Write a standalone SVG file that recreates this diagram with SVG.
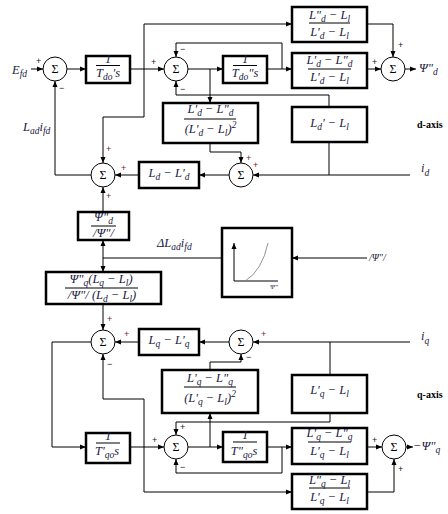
<svg xmlns="http://www.w3.org/2000/svg" width="448" height="514" viewBox="0 0 448 514">
<defs>
<marker id="ar" markerWidth="6" markerHeight="6" refX="6" refY="3" orient="auto" markerUnits="userSpaceOnUse"><path d="M0,0.5 L6,3 L0,5.5 z" fill="#000"/></marker>
<style>
.box{fill:#fff;stroke:#000;stroke-width:2.5}
.sum{fill:#fff;stroke:#000;stroke-width:1}
.ln{fill:none;stroke:#000;stroke-width:1}
.fl{stroke:#000;stroke-width:1}
.m{font-family:"Liberation Serif",serif;font-style:italic;font-size:12.5px;fill:#1a1a40}
.c{text-anchor:middle}
.s{font-size:9.5px}
.sig{font-family:"Liberation Serif",serif;font-size:12px;text-anchor:middle;fill:#000}
.sg{font-family:"Liberation Sans",sans-serif;font-size:9px;fill:#222}
.sr{font-family:"Liberation Sans",sans-serif;font-size:9px;fill:#7a1f1f}
.ax{font-family:"Liberation Serif",serif;font-weight:bold;font-size:10px;fill:#000}
</style>
</defs>
<rect width="448" height="514" fill="#fff"/>

<g id="connectors">
<path class="ln" d="M31,69 H43" marker-end="url(#ar)"/>
<path class="ln" d="M67,69 H86" marker-end="url(#ar)"/>
<path class="ln" d="M130,69 H164" marker-end="url(#ar)"/>
<path class="ln" d="M144,69 V24 H292" marker-end="url(#ar)"/>
<path class="ln" d="M144,69 V117 H103 V163" marker-end="url(#ar)"/>
<path class="ln" d="M188,69 H223" marker-end="url(#ar)"/>
<path class="ln" d="M210,69 V103" marker-end="url(#ar)"/>
<path class="ln" d="M267,69 H292" marker-end="url(#ar)"/>
<path class="ln" d="M282,69 V43 H176 V57" marker-end="url(#ar)"/>
<path class="ln" d="M329,107 V95 H176 V81" marker-end="url(#ar)"/>
<path class="ln" d="M410,175 H253" marker-end="url(#ar)"/>
<path class="ln" d="M329,175 V142"/>
<path class="ln" d="M210,143 V152 H241 V163" marker-end="url(#ar)"/>
<path class="ln" d="M229,175 H199" marker-end="url(#ar)"/>
<path class="ln" d="M139,175 H115" marker-end="url(#ar)"/>
<path class="ln" d="M91,175 H55 V81" marker-end="url(#ar)"/>
<path class="ln" d="M103,212 V187" marker-end="url(#ar)"/>
<path class="ln" d="M367,24 H393 V57" marker-end="url(#ar)"/>
<path class="ln" d="M367,69 H381" marker-end="url(#ar)"/>
<path class="ln" d="M405,69 H416" marker-end="url(#ar)"/>
<path class="ln" d="M367,258 H292" marker-end="url(#ar)"/>
<path class="ln" d="M222,258 H103"/>
<path class="ln" d="M103,258 V240" marker-end="url(#ar)"/>
<path class="ln" d="M103,258 V272" marker-end="url(#ar)"/>
<path class="ln" d="M103,304 V330" marker-end="url(#ar)"/>
<path class="ln" d="M410,342 H253" marker-end="url(#ar)"/>
<path class="ln" d="M330,342 V375"/>
<path class="ln" d="M229,342 H199" marker-end="url(#ar)"/>
<path class="ln" d="M139,342 H115" marker-end="url(#ar)"/>
<path class="ln" d="M91,342 H52 V447 H86" marker-end="url(#ar)"/>
<path class="ln" d="M130,447 H164" marker-end="url(#ar)"/>
<path class="ln" d="M144,447 V399 H103 V354" marker-end="url(#ar)"/>
<path class="ln" d="M144,447 V492 H292" marker-end="url(#ar)"/>
<path class="ln" d="M210,370 V362 H241 V354" marker-end="url(#ar)"/>
<path class="ln" d="M188,447 H223" marker-end="url(#ar)"/>
<path class="ln" d="M210,447 V413" marker-end="url(#ar)"/>
<path class="ln" d="M330,413 V422 H176 V435" marker-end="url(#ar)"/>
<path class="ln" d="M267,447 H292" marker-end="url(#ar)"/>
<path class="ln" d="M282,447 V473 H176 V459" marker-end="url(#ar)"/>
<path class="ln" d="M367,447 H382" marker-end="url(#ar)"/>
<path class="ln" d="M367,492 H394 V459" marker-end="url(#ar)"/>
<path class="ln" d="M406,447 H413" marker-end="url(#ar)"/>
</g>

<g id="sum1"><circle class="sum" cx="55" cy="69" r="12"/><text class="sig" x="55" y="73">Σ</text>
<text class="sg" x="36" y="64">+</text><text class="sg" x="59" y="91">−</text></g>
<g id="sum2"><circle class="sum" cx="176" cy="69" r="12"/><text class="sig" x="176" y="73">Σ</text>
<text class="sg" x="151" y="65">+</text><text class="sg" x="180" y="52">−</text><text class="sg" x="180" y="92">−</text></g>
<g id="sum5"><circle class="sum" cx="393" cy="69" r="12"/><text class="sig" x="393" y="73">Σ</text>
<text class="sg" x="398" y="48">+</text><text class="sg" x="372" y="65">+</text></g>
<g id="sum3"><circle class="sum" cx="103" cy="175" r="12"/><text class="sig" x="103" y="179">Σ</text>
<text class="sr" x="106" y="152">+</text><text class="sr" x="121" y="171">+</text><text class="sr" x="106" y="199">+</text></g>
<g id="sum4"><circle class="sum" cx="241" cy="175" r="12"/><text class="sig" x="241" y="179">Σ</text>
<text class="sr" x="246" y="161">+</text><text class="sr" x="253" y="168">+</text></g>
<g id="sum6"><circle class="sum" cx="103" cy="342" r="12"/><text class="sig" x="103" y="346">Σ</text>
<text class="sr" x="107" y="322">+</text><text class="sr" x="124" y="337">+</text><text class="sg" x="107" y="367">−</text></g>
<g id="sum7"><circle class="sum" cx="241" cy="342" r="12"/><text class="sig" x="241" y="346">Σ</text>
<text class="sr" x="261" y="337">+</text><text class="sg" x="246" y="360">−</text></g>
<g id="sum8"><circle class="sum" cx="176" cy="447" r="12"/><text class="sig" x="176" y="451">Σ</text>
<text class="sg" x="152" y="443">+</text><text class="sg" x="180" y="430">+</text><text class="sg" x="180" y="470">−</text></g>
<g id="sum9"><circle class="sum" cx="394" cy="447" r="12"/><text class="sig" x="394" y="451">Σ</text>
<text class="sg" x="372" y="443">+</text><text class="sg" x="398" y="472">+</text></g>

<g id="boxA"><rect class="box" x="86" y="56" width="44" height="27"/><line class="fl" x1="96" y1="65.5" x2="120" y2="65.5"/>
<text class="m c" x="108" y="63">1</text><text class="m c" x="108" y="77">T<tspan class="s" dy="3">do</tspan><tspan dy="-3">'s</tspan></text></g>
<g id="boxB"><rect class="box" x="223" y="56" width="44" height="27"/><line class="fl" x1="233" y1="65.5" x2="257" y2="65.5"/>
<text class="m c" x="245" y="63">1</text><text class="m c" x="245" y="77">T<tspan class="s" dy="3">do</tspan><tspan dy="-3">"s</tspan></text></g>
<g id="boxC"><rect class="box" x="292" y="7" width="75" height="35"/><line class="fl" x1="309" y1="23" x2="350" y2="23"/>
<text class="m c" x="329.5" y="19">L"<tspan class="s" dy="3">d</tspan><tspan dy="-3"> − L</tspan><tspan class="s" dy="3">l</tspan></text>
<text class="m c" x="329.5" y="36">L'<tspan class="s" dy="3">d</tspan><tspan dy="-3"> − L</tspan><tspan class="s" dy="3">l</tspan></text></g>
<g id="boxD"><rect class="box" x="292" y="53" width="75" height="35"/><line class="fl" x1="308" y1="69" x2="351" y2="69"/>
<text class="m c" x="329.5" y="64">L'<tspan class="s" dy="3">d</tspan><tspan dy="-3"> − L"</tspan><tspan class="s" dy="3">d</tspan></text>
<text class="m c" x="329.5" y="81">L'<tspan class="s" dy="3">d</tspan><tspan dy="-3"> − L</tspan><tspan class="s" dy="3">l</tspan></text></g>
<g id="boxE"><rect class="box" x="163" y="103" width="95" height="40"/><line class="fl" x1="184" y1="119" x2="236" y2="119"/>
<text class="m c" x="210.5" y="113">L'<tspan class="s" dy="3">d</tspan><tspan dy="-3"> − L"</tspan><tspan class="s" dy="3">d</tspan></text>
<text class="m c" x="210.5" y="133">(L'<tspan class="s" dy="3">d</tspan><tspan dy="-3"> − L</tspan><tspan class="s" dy="3">l</tspan><tspan dy="-3">)</tspan><tspan class="s" dy="-5">2</tspan></text></g>
<g id="boxF"><rect class="box" x="292" y="107" width="75" height="35"/>
<text class="m c" x="329.5" y="127">L<tspan class="s" dy="3">d</tspan><tspan dy="-3">' − L</tspan><tspan class="s" dy="3">l</tspan></text></g>
<g id="boxG"><rect class="box" x="139" y="162" width="60" height="26"/>
<text class="m c" x="169" y="177">L<tspan class="s" dy="3">d</tspan><tspan dy="-3"> − L'</tspan><tspan class="s" dy="3">d</tspan></text></g>
<g id="boxH"><rect class="box" x="78" y="212" width="51" height="28"/><line class="fl" x1="91" y1="226" x2="116" y2="226"/>
<text class="m c" x="103.5" y="221">Ψ"<tspan class="s" dy="3">d</tspan></text>
<text class="m c" x="103.5" y="237">/Ψ"/</text></g>
<g id="boxI"><rect class="box" x="46" y="272" width="115" height="32"/><line class="fl" x1="65" y1="288" x2="138" y2="288"/>
<text class="m c" x="101" y="283">Ψ"<tspan class="s" dy="3">q</tspan><tspan dy="-3">(L</tspan><tspan class="s" dy="3">q</tspan><tspan dy="-3"> − L</tspan><tspan class="s" dy="3">l</tspan><tspan dy="-3">)</tspan></text>
<text class="m c" x="102" y="299">/Ψ"/ (L<tspan class="s" dy="3">d</tspan><tspan dy="-3"> − L</tspan><tspan class="s" dy="3">l</tspan><tspan dy="-3">)</tspan></text></g>
<g id="boxSat"><rect class="box" x="222" y="228" width="70" height="69"/>
<path class="ln" d="M234,281 V243" marker-end="url(#ar)"/><path class="ln" d="M234,281 H278"/>
<path d="M245,281 Q262,271 268,243" fill="none" stroke="#777" stroke-width="0.8"/>
<text class="m" x="270" y="289" style="font-size:7px">Ψ"</text></g>
<g id="boxJ"><rect class="box" x="139" y="329" width="60" height="26"/>
<text class="m c" x="169" y="344">L<tspan class="s" dy="3">q</tspan><tspan dy="-3"> − L'</tspan><tspan class="s" dy="3">q</tspan></text></g>
<g id="boxK"><rect class="box" x="162" y="370" width="96" height="43"/><line class="fl" x1="184" y1="387" x2="236" y2="387"/>
<text class="m c" x="210" y="382">L'<tspan class="s" dy="3">q</tspan><tspan dy="-3"> − L"</tspan><tspan class="s" dy="3">q</tspan></text>
<text class="m c" x="210" y="402">(L'<tspan class="s" dy="3">q</tspan><tspan dy="-3"> − L</tspan><tspan class="s" dy="3">l</tspan><tspan dy="-3">)</tspan><tspan class="s" dy="-5">2</tspan></text></g>
<g id="boxL"><rect class="box" x="292" y="375" width="75" height="38"/>
<text class="m c" x="329.5" y="394">L'<tspan class="s" dy="3">q</tspan><tspan dy="-3"> − L</tspan><tspan class="s" dy="3">l</tspan></text></g>
<g id="boxM"><rect class="box" x="86" y="433" width="44" height="30"/><line class="fl" x1="96" y1="443" x2="120" y2="443"/>
<text class="m c" x="108" y="440">1</text><text class="m c" x="107" y="455">T'<tspan class="s" dy="3">qo</tspan><tspan dy="-3">s</tspan></text></g>
<g id="boxN"><rect class="box" x="223" y="432" width="44" height="30"/><line class="fl" x1="233" y1="442" x2="257" y2="442"/>
<text class="m c" x="245" y="439">1</text><text class="m c" x="244" y="455">T"<tspan class="s" dy="3">qo</tspan><tspan dy="-3">s</tspan></text></g>
<g id="boxO"><rect class="box" x="292" y="428" width="75" height="36"/><line class="fl" x1="308" y1="442" x2="351" y2="442"/>
<text class="m c" x="329.5" y="437">L'<tspan class="s" dy="3">q</tspan><tspan dy="-3"> − L"</tspan><tspan class="s" dy="3">q</tspan></text>
<text class="m c" x="329.5" y="455">L'<tspan class="s" dy="3">q</tspan><tspan dy="-3"> − L</tspan><tspan class="s" dy="3">l</tspan></text></g>
<g id="boxP"><rect class="box" x="292" y="474" width="75" height="35"/><line class="fl" x1="309" y1="488" x2="350" y2="488"/>
<text class="m c" x="329.5" y="484">L"<tspan class="s" dy="3">q</tspan><tspan dy="-3"> − L</tspan><tspan class="s" dy="3">l</tspan></text>
<text class="m c" x="329.5" y="501">L'<tspan class="s" dy="3">q</tspan><tspan dy="-3"> − L</tspan><tspan class="s" dy="3">l</tspan></text></g>

<g id="labels">
<text class="m" x="12" y="74">E<tspan class="s" dy="3">fd</tspan></text>
<text class="m" x="23" y="131">L<tspan class="s" dy="3">ad</tspan><tspan dy="-3">i</tspan><tspan class="s" dy="3">fd</tspan></text>
<text class="m" x="157" y="247">ΔL<tspan class="s" dy="3">ad</tspan><tspan dy="-3">i</tspan><tspan class="s" dy="3">fd</tspan></text>
<text class="m" x="369" y="261" style="font-size:10px">/Ψ"/</text>
<text class="m" x="419" y="72">Ψ"<tspan class="s" dy="3">d</tspan></text>
<text class="m" x="413" y="450">−Ψ"<tspan class="s" dy="3">q</tspan></text>
<text class="m" x="421" y="172">i<tspan class="s" dy="4">d</tspan></text>
<text class="m" x="421" y="340">i<tspan class="s" dy="4">q</tspan></text>
<text class="ax" x="417" y="128">d-axis</text>
<text class="ax" x="417" y="398">q-axis</text>
</g>
</svg>
